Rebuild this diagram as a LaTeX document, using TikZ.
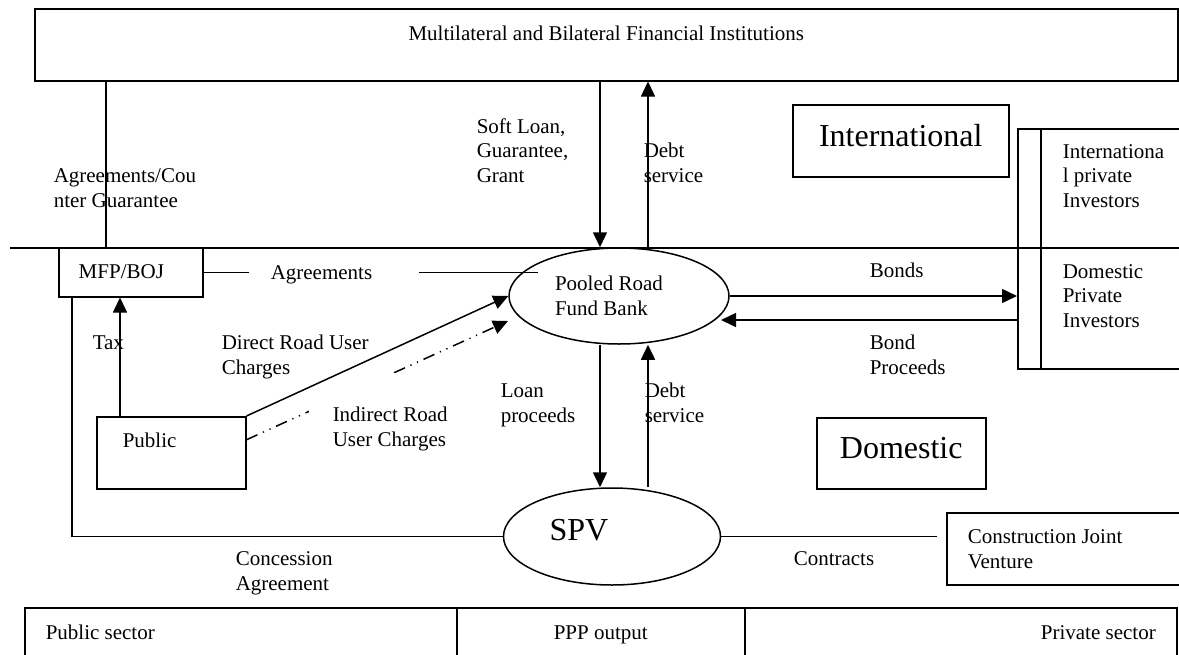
\documentclass[tikz,border=0pt]{standalone}
\usepackage{fontspec}
\setmainfont{Liberation Serif}
\usetikzlibrary{arrows.meta, shapes.geometric}

\begin{document}
\begin{tikzpicture}[x=0.5pt, y=-0.5pt, line width=0.75pt,
  every node/.style={font=\fontsize{10.5}{12.2}\selectfont},
  bigfont/.style={font=\fontsize{16}{19}\selectfont},
  boxstyle/.style={draw, rectangle, anchor=north west, inner ysep=0pt, align=flush left},
  ellstyle/.style={draw, ellipse, inner sep=0pt, align=left},
  lblstyle/.style={anchor=base west, inner sep=0pt, align=left},
  arrstyle/.style={-{Triangle[length=7.5pt,width=7pt]}},
  dashdot/.style={dash pattern=on 6pt off 3pt on 0.6pt off 3pt on 0.6pt off 3pt}]
  \useasboundingbox (0,0) rectangle (1179,654);
  \clip (0,0) rectangle (1179,654);

  \node[boxstyle, text width=571.5pt, inner xsep=0pt, align=flush center, text height=16pt, text depth=20pt] (mbfi) at (34,8) {Multilateral and Bilateral Financial Institutions};
  \node[boxstyle, text width=52pt, inner xsep=10pt, text height=15.5pt, text depth=9pt] (mfp) at (58,247) {MFP/BOJ};
  \node[boxstyle, text width=48.5pt, inner xsep=13pt, text height=15.5pt, text depth=20.5pt] (public) at (96,416) {Public};
  \node[boxstyle, bigfont, text width=108pt, inner xsep=0pt, align=flush center, text height=21pt, text depth=15pt] (intl) at (792,104) {International};
  \node[boxstyle, bigfont, text width=84.5pt, inner xsep=0pt, align=flush center, text height=20.5pt, text depth=15pt] (dom) at (816,417) {Domestic};
  \node[boxstyle, text width=101pt, inner xsep=10.5pt, text height=15.5pt, text depth=20.5pt] (cjv) at (946,512) {Construction Joint\\Venture};
  \node[boxstyle, minimum width=86.5pt, minimum height=120pt, inner sep=0pt] (inv) at (1017,128) {};
  \draw ([xshift=12pt]inv.north west) -- ([xshift=12pt]inv.south west);
  \node[lblstyle] (invIntl) at (1062,207) {Internationa\\l private\\Investors};
  \node[lblstyle] (invDom) at (1062,327) {Domestic\\Private\\Investors};

  \foreach \cname/\cx/\cw/\csep/\calign/\ctext in {pubsec/24/195pt/10.5pt/flush left/Public sector, pppout/456/144pt/0pt/flush center/PPP output, privsec/744/195pt/10.5pt/flush right/Private sector}
    \node[boxstyle, text width=\cw, inner xsep=\csep, align=\calign, text height=16pt, text depth=16pt] (\cname) at (\cx,607) {\ctext};

  \node[ellstyle, minimum width=110pt, minimum height=48pt] (pool) at (619,296) {Pooled Road\kern10pt\\Fund Bank};
  \node[ellstyle, bigfont, minimum width=108.5pt, minimum height=48.5pt, text depth=6.5pt] (spv) at (612,536.5) {SPV\kern33pt};

  \coordinate (colCon) at (72,0);
  \coordinate (colAg) at (106,0);
  \coordinate (colTax) at (120,0);
  \coordinate (colLoan) at (600,0);
  \coordinate (colDebt) at (648,0);
  \coordinate (agrEnd) at (538,0);
  \coordinate (indTip) at (508,321);
  \coordinate (bpTip) at (721,320);
  \coordinate (conEnd) at (937,0);

  \draw (10,248) -- (1179,248);
  \draw (mfp.north -| colAg) -- (mbfi.south -| colAg);
  \draw[arrstyle] (mbfi.south -| colLoan) -- (pool.north -| colLoan);
  \draw[arrstyle] (pool.north -| colDebt) -- (mbfi.south -| colDebt);
  \draw[arrstyle] (pool.south -| colLoan) -- (spv.north -| colLoan);
  \draw[arrstyle] (spv.north -| colDebt) -- (pool.south -| colDebt);
  \draw[arrstyle] (public.north -| colTax) -- (mfp.south -| colTax);
  \draw (mfp.south -| colCon) |- (spv.west);
  \draw (mfp.east) -- (mfp.east -| agrEnd);
  \node[boxstyle, draw=none, fill=white, text width=63pt, inner xsep=11pt, text height=10.5pt, text depth=5.5pt] (lblAgr) at (248,258) {Agreements};
  \draw[arrstyle, dashdot] ([yshift=6.5pt]public.east) -- (indTip);
  \node[boxstyle, draw=none, fill=white, text width=60pt, inner xsep=12pt, text height=24.5pt, text depth=20pt] (lblIndirect) at (308,372) {Indirect Road\\User Charges};
  \draw[arrstyle] (public.north east) -- (pool.west);
  \draw[arrstyle] (pool.east) -- (pool.east -| inv.west);
  \draw[arrstyle] (inv.west |- bpTip) -- (bpTip);
  \draw (spv.east) -- (spv.east -| conEnd);

  \node[lblstyle] (lblAgc) at (53,207) {Agreements/Cou\\nter Guarantee};
  \node[lblstyle] (lblSoft) at (476,182) {Soft Loan,\\Guarantee,\\Grant};
  \node[lblstyle] (lblDebtTop) at (643,182) {Debt\\service};
  \node[lblstyle] (lblTax) at (92,349) {Tax};
  \node[lblstyle] (lblDirect) at (221,374) {Direct Road User\\Charges};
  \node[lblstyle] (lblLoan) at (500,422) {Loan\\proceeds};
  \node[lblstyle] (lblDebtBot) at (644,422) {Debt\\service};
  \node[lblstyle] (lblBonds) at (869,277) {Bonds};
  \node[lblstyle] (lblBondPr) at (869,374) {Bond\\Proceeds};
  \node[lblstyle] (lblConc) at (235,590) {Concession\\Agreement};
  \node[lblstyle] (lblContr) at (793,565) {Contracts};
\end{tikzpicture}
\end{document}
